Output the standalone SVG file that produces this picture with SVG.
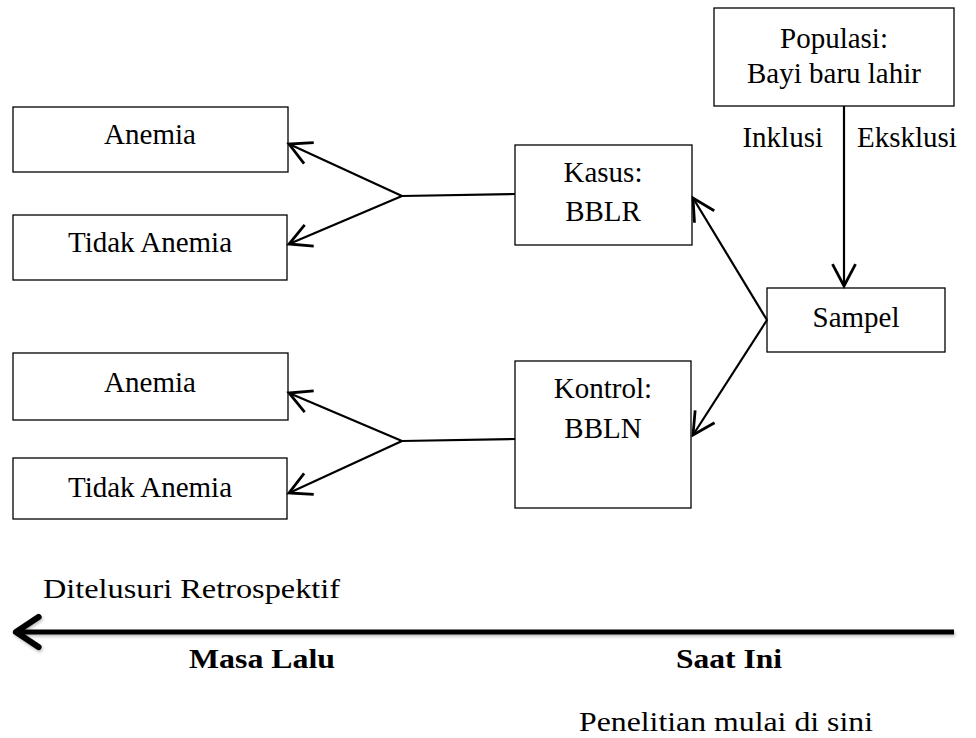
<svg xmlns="http://www.w3.org/2000/svg" width="976" height="738" viewBox="0 0 976 738">
<defs>
<style>
.box{fill:#fff;stroke:#000;stroke-width:1.3}
text{font-family:'Liberation Serif','Times New Roman','DejaVu Serif',serif;font-size:29px;fill:#000;text-anchor:middle}
.s{text-anchor:start}
.e{text-anchor:end}
.b{font-weight:bold}
.big{font-size:28px;text-anchor:start}
.c{stroke:#000;stroke-width:2.2;fill:none}
</style>
<marker id="ah" markerUnits="userSpaceOnUse" markerWidth="30" markerHeight="30" viewBox="-22 -12 26 24" refX="0" refY="0" orient="auto">
<path d="M-19,-10 L0,0 L-19,10" fill="none" stroke="#000" stroke-width="2.4"/>
</marker>
<marker id="ahb" markerUnits="userSpaceOnUse" markerWidth="40" markerHeight="40" viewBox="-24 -16 30 32" refX="0" refY="0" orient="auto">
<path d="M-18,-12 L0,0 L-18,12" fill="none" stroke="#000" stroke-width="5" stroke-linecap="round" stroke-linejoin="round"/>
</marker>
<filter id="sh" filterUnits="userSpaceOnUse" x="0" y="590" width="976" height="90">
<feDropShadow dx="1" dy="2" stdDeviation="1.5" flood-color="#000" flood-opacity="0.25"/>
</filter>
</defs>

<g id="populasi">
<rect class="box" x="714" y="8" width="240" height="98"/>
<text x="834" y="48">Populasi:</text>
<text x="834" y="83">Bayi baru lahir</text>
</g>
<g id="sampel">
<rect class="box" x="767" y="288" width="178" height="64"/>
<text x="856" y="327">Sampel</text>
</g>
<g id="kasus">
<rect class="box" x="515" y="145" width="177" height="100"/>
<text x="603" y="182">Kasus:</text>
<text x="603" y="221">BBLR</text>
</g>
<g id="kontrol">
<rect class="box" x="515" y="361" width="176" height="147"/>
<text x="603" y="398">Kontrol:</text>
<text x="603" y="438">BBLN</text>
</g>
<g id="anemia1">
<rect class="box" x="13" y="107" width="275" height="65"/>
<text x="150" y="144">Anemia</text>
</g>
<g id="tidak1">
<rect class="box" x="13" y="215" width="274" height="65"/>
<text x="150" y="252">Tidak Anemia</text>
</g>
<g id="anemia2">
<rect class="box" x="13" y="353" width="275" height="67"/>
<text x="150" y="392">Anemia</text>
</g>
<g id="tidak2">
<rect class="box" x="13" y="458" width="274" height="61"/>
<text x="150" y="497">Tidak Anemia</text>
</g>

<g id="connectors">
<line class="c" x1="844" y1="106" x2="844" y2="286" marker-end="url(#ah)"/>
<line class="c" x1="767" y1="320" x2="693" y2="198" marker-end="url(#ah)"/>
<line class="c" x1="767" y1="320" x2="693" y2="435" marker-end="url(#ah)"/>
<line class="c" x1="515" y1="194" x2="402" y2="196"/>
<line class="c" x1="402" y1="196" x2="289" y2="144" marker-end="url(#ah)"/>
<line class="c" x1="402" y1="196" x2="289" y2="244" marker-end="url(#ah)"/>
<line class="c" x1="515" y1="439" x2="402" y2="441"/>
<line class="c" x1="402" y1="441" x2="289" y2="393" marker-end="url(#ah)"/>
<line class="c" x1="402" y1="441" x2="289" y2="493" marker-end="url(#ah)"/>
</g>

<g id="labels">
<text class="e" x="823" y="147">Inklusi</text>
<text class="s" x="857" y="147">Eksklusi</text>
<text class="big" x="43" y="598" textLength="297" lengthAdjust="spacingAndGlyphs">Ditelusuri Retrospektif</text>
<text class="b big" x="189" y="668" textLength="146" lengthAdjust="spacingAndGlyphs">Masa Lalu</text>
<text class="b big" x="676" y="668" textLength="106" lengthAdjust="spacingAndGlyphs">Saat Ini</text>
<text class="big" x="579" y="731" textLength="294" lengthAdjust="spacingAndGlyphs">Penelitian mulai di sini</text>
</g>

<g id="timeline" filter="url(#sh)">
<line x1="954" y1="632" x2="16" y2="632" stroke="#000" stroke-width="5" marker-end="url(#ahb)"/>
</g>
</svg>
